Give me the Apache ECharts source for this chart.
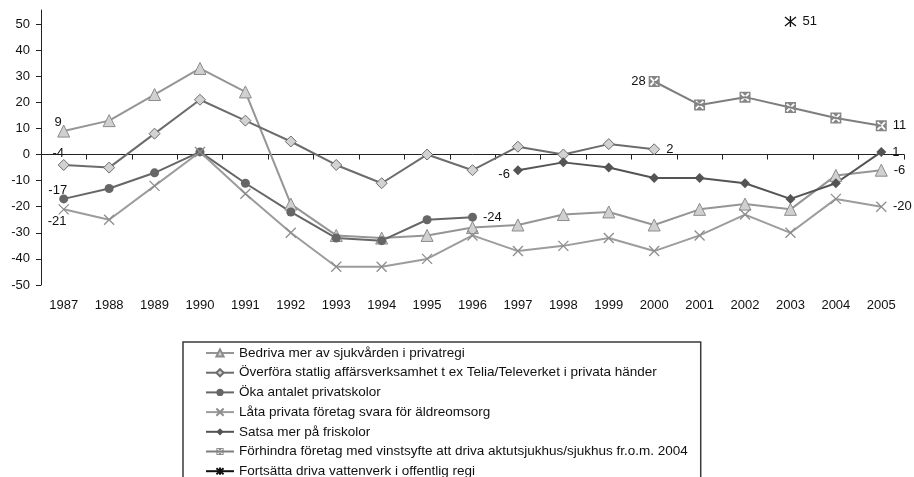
<!DOCTYPE html>
<html>
<head>
<meta charset="utf-8">
<script src="https://cdn.jsdelivr.net/npm/echarts@6/dist/echarts.min.js"></script>
<style>
  html, body { margin: 0; padding: 0; background: #fff; }
  #chart { width: 914px; height: 477px; }
</style>
</head>
<body>
<div id="chart"></div>
<script>
// Survey years on the category axis
const years = ['1987','1988','1989','1990','1991','1992','1993','1994','1995','1996',
               '1997','1998','1999','2000','2001','2002','2003','2004','2005'];

// Value-axis ticks
const yTicks = [-50, -40, -30, -20, -10, 0, 10, 20, 30, 40, 50];

// Net opinion balance per proposal (null = not asked that year)
const bedriva      = [9, 13, 23, 33, 24, -19, -31, -32, -31, -28, -27, -23, -22, -27, -21, -19, -21, -8, -6];
const overfora     = [-4, -5, 8, 21, 13, 5, -4, -11, 0, -6, 3, 0, 4, 2, null, null, null, null, null];
const okaSkolor    = [-17, -13, -7, 1, -11, -22, -32, -33, -25, -24, null, null, null, null, null, null, null, null, null];
const lataOmsorg   = [-21, -25, -12, 1, -15, -30, -43, -43, -40, -31, -37, -35, -32, -37, -31, -23, -30, -17, -20];
const satsaFriskol = [null, null, null, null, null, null, null, null, null, null, -6, -3, -5, -9, -9, -11, -17, -11, 1];
const forhindra    = [null, null, null, null, null, null, null, null, null, null, null, null, null, 28, 19, 22, 18, 14, 11];
const vattenverk   = [null, null, null, null, null, null, null, null, null, null, null, null, null, null, null, null, 51, null, null];

const seriesNames = [
  'Bedriva mer av sjukvården i privatregi',
  'Överföra statlig affärsverksamhet t ex Telia/Televerket i privata händer',
  'Öka antalet privatskolor',
  'Låta privata företag svara för äldreomsorg',
  'Satsa mer på friskolor',
  'Förhindra företag med vinstsyfte att driva aktutsjukhus/sjukhus fr.o.m. 2004',
  'Fortsätta driva vattenverk i offentlig regi'
];

// Marker shapes
const crossPath = 'path://M0,0L10,10M10,0L0,10';
const starPath = 'path://M0,0L10,10M10,0L0,10M5,-1L5,11';
// gray square with a cut-out diagonal cross (hole wound the other way)
const boxCrossPath = 'path://M0,0L10,0L10,10L0,10Z' +
  'M1,2.2L3.8,5L1,7.8L2.2,9L5,6.2L7.8,9L9,7.8L6.2,5L9,2.2L7.8,1L5,3.8L2.2,1Z';

const styles = [
  { symbol: 'triangle', size: 12, line: '#959595', fill: '#d0d0d0', border: '#8c8c8c', bw: 1 },
  { symbol: 'diamond', size: 11, line: '#6c6c6c', fill: '#d2d2d2', border: '#6c6c6c', bw: 1 },
  { symbol: 'circle', size: 9, line: '#666666', fill: '#666666', border: '#666666', bw: 0 },
  { symbol: crossPath, size: 10, line: '#9c9c9c', fill: 'rgba(0,0,0,0)', border: '#8e8e8e', bw: 1.3 },
  { symbol: 'diamond', size: 10, line: '#545454', fill: '#545454', border: '#545454', bw: 0 },
  { symbol: boxCrossPath, size: 11, line: '#7e7e7e', fill: '#858585', border: '#858585', bw: 0 },
  { symbol: starPath, size: 11, line: '#111111', fill: 'rgba(0,0,0,0)', border: '#111111', bw: 1.3 }
];

// Which points carry a value label: either a side ('left'/'right') or
// a text-centre shift from the marker centre ('at')
const valueLabels = {
  0: { 0: { at: [-5, -8] }, 18: { side: 'right' } },
  1: { 0: { at: [-5, -11] }, 13: { side: 'right' } },
  2: { 0: { at: [-6, -8] }, 9: { side: 'right' } },
  3: { 0: { at: [-6, 13] }, 18: { side: 'right' } },
  4: { 10: { side: 'left', offset: [0, 4], distance: 3 }, 18: { side: 'right' } },
  5: { 13: { side: 'left', distance: 3 }, 18: { side: 'right' } },
  6: { 16: { side: 'right' } }
};

const FONT = '"Liberation Sans", Arial, Helvetica, sans-serif';

function withLabels(values, seriesIdx) {
  const conf = valueLabels[seriesIdx] || {};
  const half = styles[seriesIdx].size / 2;
  return values.map((v, i) => {
    if (v === null) return null;
    const c = conf[i];
    if (!c) return v;
    const label = {
      show: true,
      color: '#111',
      fontSize: 13,
      fontFamily: FONT
    };
    if (c.at) {
      label.position = [half + c.at[0], half + c.at[1]];
      label.align = 'center';
      label.verticalAlign = 'middle';
    } else {
      label.position = c.side;
      label.offset = c.offset || [0, 0];
      label.distance = c.distance !== undefined ? c.distance : 6;
    }
    return { value: v, label: label };
  });
}

const allValues = [bedriva, overfora, okaSkolor, lataOmsorg, satsaFriskol, forhindra, vattenverk];

const series = allValues.map((vals, k) => ({
  name: seriesNames[k],
  type: 'line',
  data: withLabels(vals, k),
  connectNulls: false,
  symbol: styles[k].symbol,
  symbolSize: styles[k].size,
  showAllSymbol: true,
  lineStyle: { color: styles[k].line, width: 2 },
  itemStyle: { color: styles[k].fill, borderColor: styles[k].border, borderWidth: styles[k].bw },
  emphasis: { disabled: true },
  animation: false
}));

const chart = echarts.init(document.getElementById('chart'), null, { renderer: 'canvas' });
chart.setOption({
  animation: false,
  backgroundColor: '#fff',
  textStyle: { fontFamily: FONT },
  // the value axis runs a little past 50 at the top, without a tick there
  grid: { left: 41, right: 10, top: 10, bottom: 192, containLabel: false },
  xAxis: {
    type: 'category',
    data: years,
    boundaryGap: true,
    axisLine: { lineStyle: { color: '#222', width: 1 } },
    axisTick: { show: true, length: 5, lineStyle: { color: '#222' } },
    axisLabel: { color: '#111', fontSize: 13, margin: 14, fontFamily: FONT, interval: 0 },
    splitLine: { show: false }
  },
  yAxis: {
    type: 'value',
    min: -50,
    max: 55.4,
    axisLine: { show: true, lineStyle: { color: '#222', width: 1 } },
    axisTick: { show: true, length: 5, lineStyle: { color: '#222' }, customValues: yTicks },
    axisLabel: { color: '#111', fontSize: 13, margin: 11, fontFamily: FONT, customValues: yTicks },
    splitLine: { show: false }
  },
  legend: {
    orient: 'vertical',
    left: 183,
    top: 342,
    height: 190,
    padding: [4, 13, 12, 22],
    itemWidth: 28,
    itemHeight: 9,
    itemGap: 5.7,
    borderColor: '#3a3a3a',
    borderWidth: 1.5,
    textStyle: { color: '#111', fontSize: 13.5, fontFamily: FONT },
    data: seriesNames
  },
  series: series
});
</script>
</body>
</html>
